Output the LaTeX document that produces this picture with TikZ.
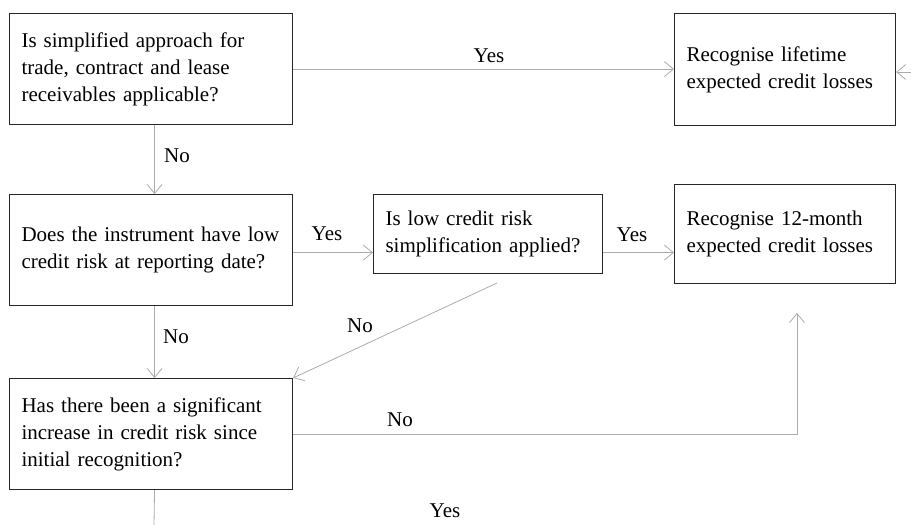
\documentclass[tikz,border=0pt]{standalone}
\usepackage{fontspec}
\setmainfont{Liberation Serif}
\usetikzlibrary{arrows.meta}

\tikzset{
  box/.style 2 args={draw=black!85, line width=1.1pt, anchor=north west, align=left,
    inner xsep=12pt, inner ysep=0pt, text width=#1, minimum height=#2},
  flow/.style={draw=gray!65, line width=0.8pt, -{Straight Barb[length=9pt,width=15pt]}},
  lbl/.style={inner sep=0pt}
}

\begin{document}
\begin{tikzpicture}[x=1pt,y=-1pt,font=\fontsize{21}{27}\selectfont]
\useasboundingbox (0,0) rectangle (911,525);

\node[box={259pt}{111pt}] (simple) at (9,13) {Is simplified approach for\\trade, contract and lease\\receivables applicable?};
\node[box={197pt}{112pt}] (lifetime) at (674,13) {Recognise lifetime\\expected credit losses};
\node[box={259pt}{111pt}] (lowrisk) at (9,194) {Does the instrument have low\\credit risk at reporting date?};
\node[box={205pt}{79pt}] (lcrs) at (373,194) {Is low credit risk\\simplification applied?};
\node[box={197pt}{99pt}] (twelve) at (674,184) {Recognise 12-month\\expected credit losses};
\node[box={259pt}{111pt}] (sicr) at (9,378) {Has there been a significant\\increase in credit risk since\\initial recognition?};

% free ends
\coordinate (fromright) at (911,72);
\coordinate (row) at ([yshift=-2.5pt]lowrisk.east);
\coordinate (fromlcrs) at (497,283);
\coordinate (intwelve) at (797,313);
\coordinate (bottom) at (154,525);

\draw[flow] (simple.east) -- (simple.east -| lifetime.west);
\draw[flow] (fromright) -- (fromright -| lifetime.east);
\draw[flow] ([xshift=3.5pt]simple.south) -- ([xshift=3.5pt]lowrisk.north);
\draw[flow] (row) -- (row -| lcrs.west);
\draw[flow] (row -| lcrs.east) -- (row -| twelve.west);
\draw[flow] (fromlcrs) -- (sicr.north east);
\draw[flow] ([xshift=3.5pt]lowrisk.south) -- ([xshift=3.5pt]sicr.north);
\draw[flow] (sicr.east) -| (intwelve);
\draw[draw=gray!65, line width=0.8pt] ([xshift=3.5pt]sicr.south) -- (bottom);

\foreach \name/\pos/\txt in {
  yesab/{(489,56)}/Yes,
  noac/{(177,156)}/No,
  yescd/{(327,234)}/Yes,
  yesde/{(632,235)}/Yes,
  nodf/{(360,326)}/No,
  nocf/{(176,337)}/No,
  nofe/{(400,420)}/No,
  yesdown/{(445,511)}/Yes}
  \node[lbl] (\name) at \pos {\txt};
\end{tikzpicture}
\end{document}
